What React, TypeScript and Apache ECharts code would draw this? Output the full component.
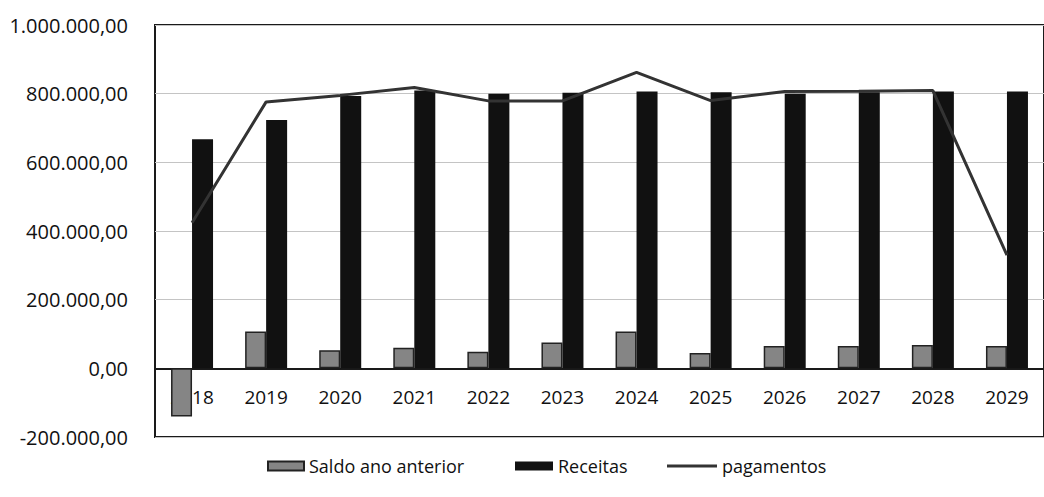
import React, { useEffect, useRef } from "react";
import * as echarts from "echarts";

const categories = ["2018", "2019", "2020", "2021", "2022", "2023", "2024", "2025", "2026", "2027", "2028", "2029"];
const saldoAnoAnterior = [-140000, 107000, 53000, 60000, 48000, 75000, 107000, 45000, 65000, 65000, 68000, 65000];
const receitas = [667000, 723000, 793000, 809000, 800000, 803000, 806000, 804000, 800000, 804000, 806000, 806000];
const pagamentos = [424000, 776000, 795000, 818000, 779000, 779000, 862000, 780000, 806000, 807000, 809000, 330000];
const legendNames = ["Saldo ano anterior", "Receitas", "pagamentos"];

const FONT = "'Open Sans', 'Noto Sans', sans-serif";

function formatBR(v: number): string {
  const neg = v < 0;
  const abs = Math.abs(Math.round(v));
  const s = String(abs).replace(/\B(?=(\d{3})+(?!\d))/g, ".");
  return (neg ? "-" : "") + s + ",00";
}

export default function App() {
  const ref = useRef<HTMLDivElement>(null);
  useEffect(() => {
    if (!ref.current) return;
    const chart = echarts.init(ref.current, null, { renderer: "svg" });
    const gridTop = 25;
    const gridBottom = 60;
    const plotH = 497 - gridTop - gridBottom;
    const legendText = { fontFamily: FONT, fontSize: 18, color: "#111" };
    chart.setOption({
      animation: false,
      backgroundColor: "#ffffff",
      grid: { left: 155, top: gridTop, width: 897, bottom: gridBottom, show: true, borderColor: "#1a1a1a", borderWidth: 2, backgroundColor: "transparent" },
      legend: [
        { data: [{ name: legendNames[0], icon: "rect" }], left: 267, top: 457, padding: 0, itemWidth: 36, itemHeight: 9, itemGap: 4, textStyle: legendText },
        { data: [{ name: legendNames[1], icon: "rect" }], left: 515, top: 457, padding: 0, itemWidth: 38, itemHeight: 9, itemGap: 4, textStyle: legendText },
        { data: [{ name: legendNames[2], icon: "rect" }], left: 667, top: 457, padding: 0, itemWidth: 50, itemHeight: 3, itemGap: 5, textStyle: legendText },
      ],
      xAxis: {
        type: "category",
        data: categories,
        offset: -plotH / 6,
        axisLine: { onZero: false, lineStyle: { color: "#1a1a1a", width: 2 } },
        axisTick: { show: false },
        axisLabel: { fontFamily: FONT, fontSize: 19, color: "#111", margin: 19 },
      },
      yAxis: {
        type: "value",
        min: -200000,
        max: 1000000,
        interval: 200000,
        axisLine: { show: false },
        axisTick: { show: false },
        splitLine: { lineStyle: { color: "#c4c4c4", width: 1 } },
        axisLabel: { fontFamily: FONT, fontSize: 20, color: "#111", margin: 27, formatter: (v: number) => formatBR(v) },
      },
      series: [
        {
          name: legendNames[0],
          type: "bar",
          data: saldoAnoAnterior,
          barWidth: 21,
          barGap: "0%",
          itemStyle: { color: "#858585", borderColor: "#222", borderWidth: 1.5 },
        },
        {
          name: legendNames[1],
          type: "bar",
          data: receitas,
          barWidth: 21,
          barGap: "0%",
          itemStyle: { color: "#111111" },
        },
        {
          name: legendNames[2],
          type: "line",
          data: pagamentos,
          symbol: "none",
          z: 5,
          lineStyle: { color: "#333333", width: 3 },
          itemStyle: { color: "#333333" },
        },
      ],
    });
    return () => chart.dispose();
  }, []);
  return <div ref={ref} style={{ position: "absolute", left: 0, top: 0, width: 1044, height: 497 }} />;
}
